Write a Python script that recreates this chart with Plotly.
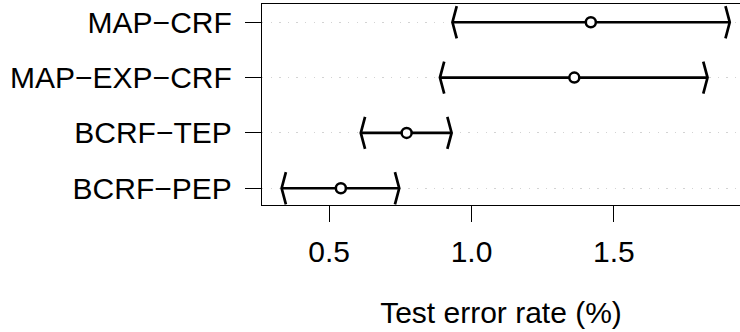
import plotly.graph_objects as go

# ---- data ----
methods = ["BCRF\u2212PEP", "BCRF\u2212TEP", "MAP\u2212EXP\u2212CRF", "MAP\u2212CRF"]
mean_err = [0.541, 0.772, 1.361, 1.419]
lower_err = [0.333, 0.611, 0.889, 0.933]
upper_err = [0.746, 0.930, 1.829, 1.907]
x_ticks = [0.5, 1.0, 1.5]
x_tick_labels = ["0.5", "1.0", "1.5"]

ypos = list(range(1, len(methods) + 1))

# arrow-head geometry (in axis units)
HX = 0.015
HY = 0.29

seg_x, seg_y = [], []
for y, lo, hi in zip(ypos, lower_err, upper_err):
    # shaft
    seg_x += [lo, hi, None]
    seg_y += [y, y, None]
    # lower bracket
    seg_x += [lo + HX, lo, lo + HX, None]
    seg_y += [y + HY, y, y - HY, None]
    # upper bracket
    seg_x += [hi - HX, hi, hi - HX, None]
    seg_y += [y + HY, y, y - HY, None]

fig = go.Figure()
fig.add_trace(go.Scatter(
    x=seg_x, y=seg_y, mode="lines",
    line=dict(color="black", width=2.7),
    hoverinfo="skip", showlegend=False,
))
fig.add_trace(go.Scatter(
    x=mean_err, y=ypos, mode="markers",
    marker=dict(symbol="circle", size=10, color="white",
                line=dict(color="black", width=2.5)),
    showlegend=False,
))

FONT = "Liberation Sans, Arial, Helvetica, sans-serif"

fig.update_layout(
    width=740, height=332,
    margin=dict(l=262, r=0, t=4, b=127, autoexpand=False),
    paper_bgcolor="white", plot_bgcolor="white",
    font=dict(family=FONT, size=30, color="black"),
    showlegend=False,
)
fig.update_xaxes(
    range=[0.264, 1.943],
    tickvals=x_ticks, ticktext=x_tick_labels,
    ticks="outside", ticklen=16, tickwidth=1.3, tickcolor="black",
    showline=True, linecolor="black", linewidth=1.4, mirror=True,
    showgrid=False, zeroline=False, automargin=False,
    tickfont=dict(size=30),
    ticklabelstandoff=4,
    title=dict(text="Test error rate (%)", font=dict(size=30), standoff=34),
)
fig.update_yaxes(
    range=[0.697, 4.33],
    tickvals=ypos, ticktext=methods,
    ticks="outside", ticklen=16, tickwidth=1.3, tickcolor="black",
    showline=True, linecolor="black", linewidth=1.4, mirror=False,
    showgrid=True, gridcolor="#d3d3d3", gridwidth=1.3, griddash="1.3px,7.3px",
    zeroline=False, automargin=False,
    tickfont=dict(size=30),
    ticklabelstandoff=7,
)

fig.write_html(
    "out.html",
    config={"displayModeBar": False},
    post_script="document.body.style.margin='0';document.body.style.overflow='hidden';",
)
